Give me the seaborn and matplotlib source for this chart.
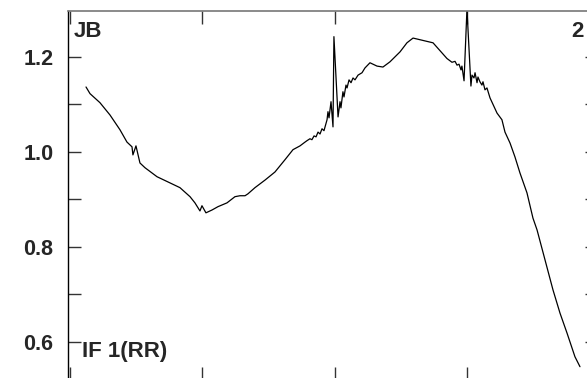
import matplotlib
matplotlib.use("Agg")
import matplotlib.pyplot as plt
import seaborn as sns
import pandas as pd
from matplotlib.ticker import MultipleLocator, NullFormatter, FixedLocator

sns.set_theme(style="white")
plt.rcParams['font.family'] = ['Liberation Sans', 'DejaVu Sans']

# Curve (x in tick units, y in axis units)
x_vals = [0.121, 0.151, 0.226, 0.302, 0.377, 0.430, 0.468, 0.475, 0.498, 0.528,
          0.566, 0.657, 0.755, 0.830, 0.906, 0.943, 0.981, 0.996, 1.026, 1.072,
          1.117, 1.185, 1.245, 1.283, 1.321, 1.343, 1.396, 1.472, 1.547, 1.623,
          1.683, 1.736, 1.774, 1.789, 1.811, 1.826, 1.842, 1.857, 1.872, 1.887,
          1.902, 1.917, 1.940, 1.947, 1.955, 1.970, 1.985, 1.992, 2.023, 2.038,
          2.045, 2.060, 2.068, 2.083, 2.091, 2.106, 2.121, 2.136, 2.151, 2.174,
          2.204, 2.226, 2.264, 2.317, 2.362, 2.415, 2.491, 2.543, 2.589, 2.740,
          2.845, 2.883, 2.906, 2.921, 2.936, 2.951, 2.958, 2.974, 2.996, 3.026,
          3.034, 3.049, 3.057, 3.072, 3.079, 3.094, 3.109, 3.117, 3.132, 3.147,
          3.170, 3.223, 3.260, 3.283, 3.321, 3.358, 3.396, 3.449, 3.494, 3.525,
          3.585, 3.645, 3.698, 3.751, 3.811, 3.849]
y_vals = [1.136, 1.122, 1.103, 1.077, 1.046, 1.020, 1.010, 0.993, 1.012, 0.976,
          0.966, 0.947, 0.934, 0.924, 0.905, 0.892, 0.875, 0.886, 0.871, 0.877,
          0.884, 0.892, 0.905, 0.907, 0.907, 0.911, 0.924, 0.940, 0.957, 0.983,
          1.004, 1.012, 1.020, 1.023, 1.027, 1.025, 1.033, 1.031, 1.041, 1.037,
          1.048, 1.044, 1.067, 1.084, 1.071, 1.105, 1.052, 1.242, 1.073, 1.105,
          1.092, 1.126, 1.115, 1.140, 1.134, 1.151, 1.145, 1.155, 1.151, 1.161,
          1.166, 1.176, 1.187, 1.180, 1.178, 1.189, 1.210, 1.229, 1.239, 1.229,
          1.196, 1.188, 1.190, 1.182, 1.184, 1.172, 1.180, 1.149, 1.300, 1.138,
          1.161, 1.155, 1.166, 1.145, 1.157, 1.147, 1.140, 1.147, 1.130, 1.134,
          1.113, 1.081, 1.067, 1.041, 1.018, 0.989, 0.955, 0.913, 0.860, 0.835,
          0.772, 0.709, 0.660, 0.618, 0.568, 0.547]

y_major = [0.6, 0.8, 1.0, 1.2]
y_minor = [0.7, 0.9, 1.1, 1.3]
x_ticks = [0, 1, 2, 3, 4]
panel_left = "JB"
panel_right = "2"
series_label = "IF 1(RR)"

df = pd.DataFrame({"x": x_vals, "y": y_vals})

W, H = 587, 378
fig = plt.figure(figsize=(W / 100, H / 100), dpi=100)
ax = fig.add_axes([68 / W, -2 / H, 530 / W, 369 / H])

sns.lineplot(data=df, x="x", y="y", ax=ax, color="black", linewidth=0.9,
             estimator=None, sort=False)

ax.set_xlim(-0.015, 3.985)
ax.set_ylim(0.519, 1.296)
ax.set_xlabel("")
ax.set_ylabel("")

ax.xaxis.set_major_locator(FixedLocator(x_ticks))
ax.xaxis.set_major_formatter(NullFormatter())
ax.yaxis.set_major_locator(FixedLocator(y_major))
ax.yaxis.set_minor_locator(FixedLocator(y_minor))
ax.set_yticklabels([f"{v:.1f}" for v in y_major])

ax.tick_params(axis="both", which="both", direction="in", length=9.4,
               width=1.0, color="#333333", top=True, bottom=True,
               left=True, right=True)
ax.tick_params(axis="y", which="major", labelsize=15.5, pad=10.5)
for lab in ax.get_yticklabels():
    lab.set_fontweight("bold")

for side in ["left", "right", "bottom"]:
    ax.spines[side].set_color("black")
    ax.spines[side].set_linewidth(1.0)
ax.spines["top"].set_color("#777777")
ax.spines["top"].set_linewidth(1.2)

fig.text(74 / W, 1 - 21 / H, panel_left, fontsize=16, fontweight="bold",
         ha="left", va="top")
fig.text(571 / W, 1 - 21 / H, panel_right, fontsize=16, fontweight="bold",
         ha="left", va="top")
fig.text(82 / W, 1 - 341 / H, series_label, fontsize=16, fontweight="bold",
         ha="left", va="top")

fig.savefig("out.png", dpi=100)
